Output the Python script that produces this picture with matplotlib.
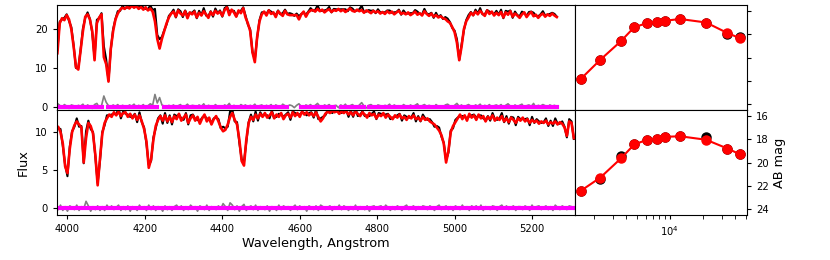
import numpy as np
import matplotlib
matplotlib.use("Agg")
import matplotlib.pyplot as plt

# --- spectrum 1 (top), 6 A sampling from 3974 A ---
wave_top = np.arange(3974, 5265, 6)
model_top = [
    13.8, 21.5, 22.8, 22.3, 23.6, 22.5, 20.0, 15.5, 10.2, 9.6,
    14.5, 19.5, 23.2, 23.8, 22.5, 19.5, 12.0, 21.5, 23.0, 23.8,
    12.8, 11.0, 6.5, 15.0, 19.5, 22.5, 24.0, 25.0, 25.5, 25.2,
    25.8, 25.3, 26.0, 25.5, 25.9, 25.2, 25.7, 25.0, 25.6, 24.8,
    25.3, 24.5, 22.0, 17.5, 15.0, 17.5, 19.5, 21.5, 23.0, 24.0,
    24.5, 23.2, 24.8, 24.0, 23.5, 24.6, 22.8, 24.3, 23.8, 24.5,
    23.0, 24.2, 23.5, 24.6, 23.8, 22.9, 24.4, 23.6, 24.7, 24.0,
    24.5, 23.4, 24.9, 25.6, 23.6, 25.0, 24.3, 23.2, 24.8, 24.1,
    25.4, 23.0, 21.5, 19.5, 14.0, 11.5, 18.0, 22.0, 23.8, 24.5,
    23.5, 24.8, 23.9, 24.3, 23.1, 24.6, 24.0, 23.4, 24.7, 23.8,
    23.6, 23.6, 23.6, 23.6, 22.5, 23.8, 24.5, 23.2, 24.3, 24.8,
    24.9, 24.5, 25.2, 24.6, 25.0, 24.3, 24.8, 25.1, 24.4, 24.9,
    24.7, 25.2, 24.6, 25.0, 24.4, 24.9, 25.3, 24.7, 24.5, 25.0,
    24.6, 24.9, 24.2, 24.8, 24.5, 24.1, 24.7, 24.3, 24.6, 24.0,
    24.4, 23.9, 24.6, 24.1, 24.5, 23.8, 24.3, 24.7, 23.9, 24.2,
    23.8, 24.3, 23.6, 24.0, 24.5, 23.7, 24.1, 23.5, 24.6, 23.9,
    23.4, 24.0, 23.2, 23.6, 23.0, 23.3, 22.8, 22.6, 22.0, 21.6,
    20.5, 19.2, 16.5, 12.0, 15.5, 20.0, 22.0, 23.0, 24.2, 23.6,
    24.5, 23.8, 24.7, 24.0, 23.4, 24.8, 23.9, 24.5, 23.5, 24.2,
    23.6, 24.4, 23.0, 24.3, 23.7, 24.6, 23.2, 24.0, 23.5, 22.9,
    23.8, 24.3, 23.1, 23.9, 24.4, 23.3, 23.7, 22.9, 23.6, 24.0,
    23.2, 23.8, 23.4, 24.0, 23.5, 23.1,
]
resid_top = [
    0.9, 0.4, -0.3, 0.6, 0.2, -0.4, 0.5, 0.3, -0.2, 0.4,
    0.2, 0.7, -0.3, 0.5, 0.1, -0.4, 0.6, 0.9, -0.2, 0.3,
    2.8, 1.2, 0.3, -0.2, 0.5, 0.1, 0.6, -0.3, 0.4, 0.2,
    -0.3, 0.5, 0.2, 0.7, -0.2, 0.4, 0.1, 0.6, -0.4, 0.3,
    0.8, 0.4, 3.2, 1.0, 2.4, 0.5, 0.2, -0.3, 0.4, 0.1,
    0.5, -0.2, 0.3, 0.6, -0.4, 0.2, 0.7, -0.1, 0.4, 0.3,
    -0.2, 0.5, 0.1, 0.8, -0.3, 0.4, 0.2, -0.4, 0.6, 0.1,
    0.3, -0.2, 0.5, 0.2, 0.9, -0.3, 0.4, 0.1, -0.2, 0.6,
    0.2, 0.5, -0.3, 0.4, 0.1, 0.7, -0.2, 0.3, 0.5, -0.1,
    0.4, 0.1, 0.6, -0.3, 0.5, 0.2, -0.2, 0.7, 0.3, 0.1,
    0.5, 0.3, -0.2, 0.4, 0.8, 0.1, -0.3, 0.5, 0.2, 0.6,
    -0.2, 0.4, 0.9, 0.1, -0.3, 0.5, 0.2, 0.6, -0.1, 0.3,
    0.4, -0.2, 0.5, 0.1, 0.7, -0.3, 0.3, 0.6, 0.1, -0.2,
    0.5, 1.1, 0.2, -0.3, 0.4, 0.6, 0.1, -0.2, 0.5, 0.3,
    -0.1, 0.4, 0.2, 0.7, -0.3, 0.5, 0.1, 0.3, -0.2, 0.6,
    0.2, -0.3, 0.5, 0.1, 0.4, 0.8, -0.2, 0.3, 0.6, 0.1,
    0.4, 0.2, -0.3, 0.6, 0.1, 0.3, -0.2, 0.5, 0.7, 0.2,
    -0.2, 0.4, 0.9, 0.1, 0.5, -0.3, 0.3, 0.6, 0.2, -0.1,
    0.5, 0.2, 0.7, -0.2, 0.4, 0.1, 0.6, -0.3, 0.3, 0.5,
    0.1, 0.6, -0.2, 0.4, 0.8, 0.2, -0.3, 0.5, 0.1, 0.4,
    0.7, -0.2, 0.3, 0.5, 0.1, 0.9, -0.3, 0.4, 0.2, 0.6,
    0.3, -0.1, 0.5, 0.2, 0.4, 0.1,
]
# masked wavelength ranges (no magenta there)
mask_top = [(4092, 4100), (4236, 4246), (4572, 4598), (4692, 4700), (4770, 4776)]

# --- spectrum 2 (bottom), 6 A sampling from 3970 A ---
wave_bot = np.arange(3970, 5309, 6)
model_bot = [
    10.6, 10.7, 10.0, 8.5, 5.5, 4.6, 7.8, 10.0, 10.9, 11.4,
    11.0, 10.6, 6.0, 9.2, 11.2, 10.8, 9.8, 7.0, 3.0, 6.5,
    9.8, 11.2, 11.8, 12.3, 12.0, 12.6, 12.2, 12.7, 12.1, 12.5,
    12.6, 12.0, 12.4, 11.8, 12.3, 11.6, 12.2, 11.4, 10.4, 8.8,
    5.3, 6.4, 9.0, 10.8, 11.6, 12.1, 11.5, 12.2, 11.4, 12.0,
    11.3, 12.1, 11.7, 12.4, 11.5, 11.9, 12.3, 11.2, 11.8, 12.2,
    11.5, 12.0, 11.1, 11.8, 12.3, 11.4, 11.9, 11.0, 11.7, 12.1,
    11.4, 10.6, 10.1, 10.3, 11.0, 12.0, 12.5, 11.6, 11.0, 9.0,
    6.2, 5.6, 9.0, 11.2, 12.0, 11.6, 12.3, 11.8, 12.4, 12.0,
    12.5, 11.9, 12.2, 12.6, 11.8, 12.3, 12.0, 12.5, 11.7, 12.2,
    12.4, 11.9, 12.6, 12.1, 12.5, 12.0, 12.7, 12.3, 12.6, 12.2,
    12.5, 12.1, 12.6, 12.0, 11.4, 11.8, 12.4, 12.7, 12.5, 12.8,
    12.6, 12.8, 12.4, 12.7, 12.5, 12.8, 12.3, 12.6, 12.2, 12.7,
    12.4, 12.1, 12.6, 12.3, 11.9, 12.5, 12.2, 12.4, 11.8, 12.3,
    12.1, 12.5, 11.9, 12.3, 12.0, 11.7, 12.2, 11.9, 12.3, 11.8,
    12.0, 11.6, 12.1, 11.8, 12.2, 11.7, 11.9, 11.5, 12.0, 11.6,
    11.8, 11.4, 11.2, 11.0, 10.6, 10.2, 9.6, 8.5, 6.0, 7.5,
    10.0, 10.8, 11.3, 11.8, 12.3, 11.7, 12.2, 11.5, 12.4, 11.9,
    12.2, 11.6, 12.3, 11.8, 12.1, 11.4, 12.0, 11.7, 12.2, 11.5,
    11.9, 11.6, 12.1, 11.4, 11.8, 11.3, 11.9, 11.6, 11.2, 11.8,
    11.5, 11.9, 11.4, 11.7, 11.2, 11.6, 11.3, 11.5, 11.1, 11.4,
    11.2, 11.5, 11.0, 11.3, 11.1, 11.4, 11.0, 11.3, 11.1, 10.6,
    9.5, 11.4, 11.2, 9.2,
]
resid_bot = [
    0.3, -0.2, 0.4, -0.3, 0.2, -0.4, 0.3, 0.1, -0.2, 0.4,
    -0.3, 0.2, -0.1, 0.9, 0.3, -0.4, 0.2, -0.2, 0.3, -0.3,
    0.2, -0.3, 0.4, -0.1, 0.3, -0.2, 0.1, 0.4, -0.3, 0.2,
    -0.2, 0.3, -0.4, 0.2, 0.1, -0.3, 0.4, -0.1, 0.2, -0.3,
    0.4, -0.2, 0.3, -0.3, 0.2, 0.1, -0.4, 0.3, -0.2, 0.2,
    -0.3, 0.2, 0.4, -0.1, 0.3, -0.3, 0.2, -0.2, 0.4, 0.1,
    0.2, -0.4, 0.3, 0.1, -0.2, 0.4, -0.3, 0.2, 0.1, -0.2,
    0.3, -0.1, 0.6, 0.2, -0.3, 0.7, 0.4, -0.2, 0.3, -0.4,
    0.2, 0.5, -0.3, 0.1, 0.3, -0.2, 0.4, -0.3, 0.2, 0.1,
    -0.2, 0.3, -0.4, 0.2, 0.1, -0.3, 0.4, -0.2, 0.3, 0.1,
    0.2, -0.3, 0.1, 0.4, -0.2, 0.3, -0.1, 0.2, -0.4, 0.3,
    0.1, -0.2, 0.3, -0.3, 0.4, 0.2, -0.2, 0.1, 0.3, -0.3,
    0.2, -0.1, 0.4, -0.2, 0.3, 0.1, -0.3, 0.2, -0.2, 0.4,
    -0.3, 0.2, 0.1, -0.2, 0.3, -0.4, 0.2, 0.3, -0.1, 0.2,
    0.3, -0.2, 0.4, 0.1, -0.3, 0.2, -0.2, 0.3, 0.1, -0.3,
    0.2, 0.4, -0.2, 0.1, 0.3, -0.3, 0.2, -0.1, 0.3, 0.2,
    -0.2, 0.3, 0.1, -0.3, 0.2, 0.4, -0.2, 0.1, 0.3, -0.2,
    0.2, -0.3, 0.3, 0.1, -0.2, 0.4, -0.1, 0.2, -0.3, 0.3,
    0.1, 0.3, -0.2, 0.4, -0.3, 0.2, 0.1, -0.2, 0.3, 0.2,
    -0.3, 0.2, 0.4, -0.1, 0.3, -0.2, 0.1, 0.3, -0.3, 0.2,
    0.2, -0.2, 0.3, 0.1, -0.3, 0.4, -0.1, 0.2, 0.3, -0.2,
    0.1, 0.3, -0.2, 0.2, -0.3, 0.4, 0.1, -0.2, 0.3, 0.1,
    -0.2, 0.3, 0.2, -0.1,
]

# --- photometry (FUV ... W2) ---
phot_wave = [1540, 2300, 3560, 4720, 6200, 7550, 9050, 12400, 21500, 33700, 44000]
obs_mag_top = [21.8, 20.2, 18.6, 17.4, 17.05, 16.95, 16.85, 16.7, 17.0, 18.0, 18.2]
mod_mag_top = [21.8, 20.2, 18.6, 17.4, 17.05, 16.95, 16.85, 16.7, 17.0, 17.9, 18.35]
obs_mag_bot = [22.4, 21.4, 19.4, 18.45, 18.05, 17.95, 17.8, 17.75, 17.8, 18.8, 19.3]
mod_mag_bot = [22.4, 21.3, 19.65, 18.45, 18.05, 17.95, 17.8, 17.75, 18.05, 18.8, 19.3]


def masked_zero(wave, masks):
    z = np.zeros(len(wave))
    for lo, hi in masks:
        z[(wave >= lo) & (wave <= hi)] = np.nan
    return z


fig = plt.figure(figsize=(8.3, 2.6), dpi=100)
W, H = 830.0, 260.0
ax_s1 = fig.add_axes([57 / W, 1 - 110 / H, 518 / W, 105 / H])
ax_s2 = fig.add_axes([57 / W, 1 - 215 / H, 518 / W, 105 / H], sharex=ax_s1)
ax_p1 = fig.add_axes([575 / W, 1 - 110 / H, 172 / W, 105 / H])
ax_p2 = fig.add_axes([575 / W, 1 - 215 / H, 172 / W, 105 / H], sharex=ax_p1, sharey=ax_p1)

tick_fs = 7.2
lab_fs = 9.3

for ax, wave, model, resid, masks in [
    (ax_s1, wave_top, model_top, resid_top, mask_top),
    (ax_s2, wave_bot, model_bot, resid_bot, []),
]:
    model = np.array(model)
    resid = np.array(resid)
    obs = model + resid
    ax.plot(wave, obs, color="black", lw=1.5)
    ax.plot(wave, model, color="red", lw=1.9)
    ax.plot(wave, resid, color="gray", lw=1.2)
    ax.plot(wave, masked_zero(wave, masks), color="magenta", lw=3.0)
    ax.tick_params(labelsize=tick_fs, length=3)

ax_s1.set_ylim(-0.8, 26.2)
ax_s1.set_yticks([0, 10, 20])
ax_s1.tick_params(axis="x", bottom=False, labelbottom=False)
ax_s2.set_ylim(-0.9, 12.9)
ax_s2.set_yticks([0, 5, 10])
ax_s2.set_xlim(3973, 5311)
ax_s2.set_xticks([4000, 4200, 4400, 4600, 4800, 5000, 5200])
ax_s2.set_xlabel("Wavelength, Angstrom", fontsize=lab_fs, labelpad=2)
ax_s2.set_ylabel("Flux", fontsize=lab_fs, labelpad=4)

for ax, om, mm in [(ax_p1, obs_mag_top, mod_mag_top), (ax_p2, obs_mag_bot, mod_mag_bot)]:
    ax.plot(phot_wave, om, "o", color="black", ms=6.5, zorder=2)
    ax.plot(phot_wave, mm, "o-", color="red", ms=6.5, lw=1.5, zorder=3)
    ax.yaxis.tick_right()
    ax.tick_params(labelsize=tick_fs, length=3, which="both")

ax_p1.set_xscale("log")
ax_p1.set_xlim(1350, 51000)
ax_p1.set_ylim(24.5, 15.5)
ax_p1.set_yticks([16, 18, 20, 22, 24])
ax_p1.tick_params(axis="x", which="both", bottom=False, labelbottom=False)
ax_p1.tick_params(axis="y", labelright=False)
ax_p2.yaxis.set_label_position("right")
ax_p2.set_ylabel("AB mag", fontsize=lab_fs, labelpad=3)

fig.savefig("out.png", dpi=100)
